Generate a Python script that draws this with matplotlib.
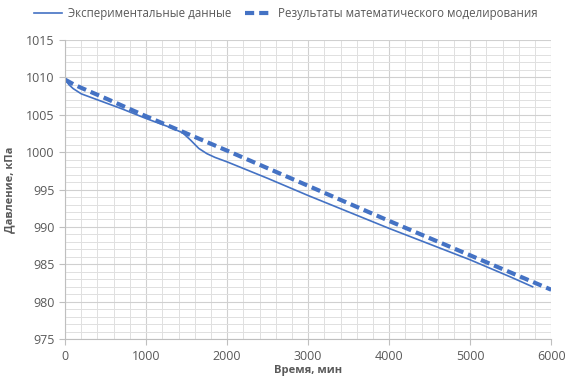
import matplotlib
matplotlib.use("Agg")
import matplotlib.pyplot as plt
from matplotlib.ticker import MultipleLocator

plt.rcParams['font.family'] = ['Open Sans', 'DejaVu Sans']

exp_t = [0, 50, 100, 200, 400, 700, 1000, 1300, 1450, 1550, 1650, 1750, 1850, 2000, 2500, 3000, 3500, 4000, 4500, 5000, 5500, 5770]
exp_p = [1009.7, 1009.0, 1008.5, 1007.8, 1007.0, 1005.8, 1004.5, 1003.3, 1002.6, 1001.6, 1000.5, 999.8, 999.3, 998.7, 996.5, 994.2, 992.0, 989.8, 987.7, 985.6, 983.3, 982.0]

mod_t = [0, 100, 200, 500, 1000, 1500, 2000, 3000, 4000, 5000, 6000]
mod_p = [1009.7, 1009.1, 1008.6, 1007.2, 1004.8, 1002.5, 1000.2, 995.5, 990.8, 986.2, 981.6]

x_ticks = [0, 1000, 2000, 3000, 4000, 5000, 6000]
y_ticks = [975, 980, 985, 990, 995, 1000, 1005, 1010, 1015]

text_col = '#595959'
line_col = '#4472C4'

fig = plt.figure(figsize=(5.76, 3.81), dpi=100)
ax = fig.add_axes([0.113, 0.110, 0.844, 0.785])

ax.plot(exp_t, exp_p, color=line_col, lw=1.2, label='Экспериментальные данные')
ax.plot(mod_t, mod_p, color=line_col, lw=3, ls=(0, (2.2, 1.2)), label='Результаты математического моделирования')

ax.set_xlim(0, 6000)
ax.set_ylim(975, 1015)
ax.set_xticks(x_ticks)
ax.set_yticks(y_ticks)
ax.xaxis.set_minor_locator(MultipleLocator(200))
ax.yaxis.set_minor_locator(MultipleLocator(1))
ax.grid(True, which='major', color='#d0d0d0', lw=0.8)
ax.grid(True, which='minor', color='#e0e0e0', lw=0.7)
ax.set_axisbelow(True)
for s in ['top', 'right']:
    ax.spines[s].set_visible(False)
for s in ['left', 'bottom']:
    ax.spines[s].set_color('#bfbfbf')
ax.tick_params(axis='both', which='major', colors='#bfbfbf', labelcolor=text_col, labelsize=9, length=4)
ax.tick_params(axis='both', which='minor', length=0)

ax.set_xlabel('Время, мин', fontsize=8, fontweight='bold', color=text_col, labelpad=2)
ax.set_ylabel('Давление, кПа', fontsize=8, fontweight='bold', color=text_col, labelpad=8)

fig.legend(loc='upper center', bbox_to_anchor=(0.497, 1.01), ncol=2, frameon=False,
           fontsize=8.3, labelcolor=text_col, handlelength=2.4, handletextpad=0.5,
           columnspacing=1.2)

fig.savefig('out.png', dpi=100)
